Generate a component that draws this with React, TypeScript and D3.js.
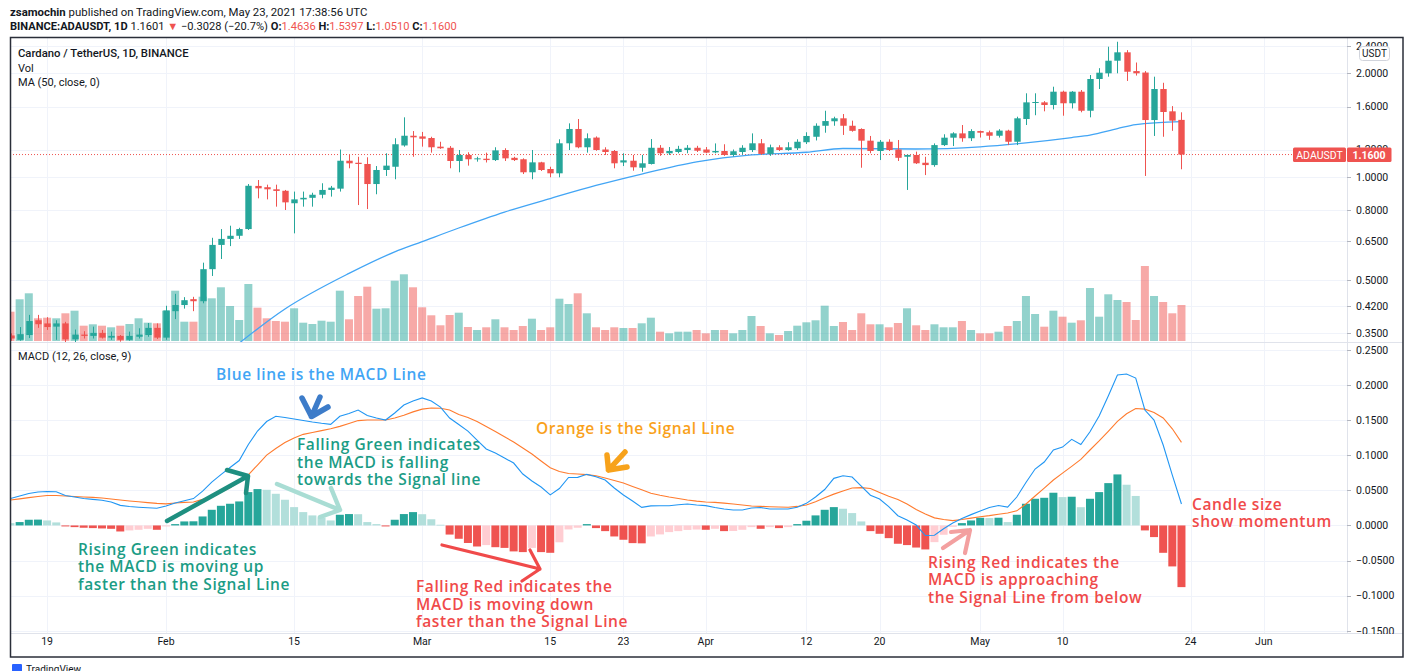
import React from 'react';
import * as d3 from 'd3';

// ---------- DATA ----------
const firstDay = '2021-01-15';

const opens = [
  0.345, 0.335, 0.346, 0.382, 0.374, 0.366, 0.374, 0.336, 0.347, 0.344,
  0.351, 0.340, 0.344, 0.335, 0.342, 0.346, 0.363, 0.340, 0.406, 0.423,
  0.440, 0.434, 0.538, 0.633, 0.659, 0.673, 0.704, 0.940, 0.932, 0.919,
  0.910, 0.837, 0.859, 0.868, 0.886, 0.915, 0.923, 1.113, 1.098, 1.089,
  0.952, 1.046, 1.069, 1.233, 1.316, 1.31, 1.296, 1.223, 1.214, 1.111,
  1.157, 1.124, 1.128, 1.118, 1.196, 1.135, 1.124, 1.03, 1.101, 1.053,
  1.023, 1.251, 1.377, 1.218, 1.30, 1.20, 1.188, 1.10, 1.113, 1.062,
  1.089, 1.214, 1.17, 1.18, 1.196, 1.214, 1.20, 1.177, 1.188, 1.157,
  1.18, 1.196, 1.251, 1.165, 1.218, 1.196, 1.21, 1.26, 1.307, 1.407,
  1.45, 1.479, 1.407, 1.377, 1.273, 1.188, 1.264, 1.20, 1.143, 1.157,
  1.098, 1.081, 1.236, 1.299, 1.337, 1.294, 1.358, 1.347, 1.316, 1.362,
  1.264, 1.472, 1.645, 1.646, 1.617, 1.768, 1.636, 1.768, 1.556, 1.925,
  2.0, 2.176, 2.302, 2.03, 2.01, 1.462, 1.80, 1.55, 1.4636,
];
const highs = [
  0.350, 0.365, 0.396, 0.396, 0.390, 0.382, 0.378, 0.359, 0.355, 0.366,
  0.358, 0.354, 0.346, 0.354, 0.362, 0.375, 0.374, 0.421, 0.456, 0.446,
  0.447, 0.562, 0.664, 0.704, 0.720, 0.710, 0.952, 0.978, 0.948, 0.948,
  0.915, 0.905, 0.905, 0.898, 0.957, 0.940, 1.20, 1.157, 1.143, 1.139,
  1.074, 1.17, 1.294, 1.489, 1.358, 1.35, 1.307, 1.264, 1.228, 1.196,
  1.178, 1.143, 1.175, 1.218, 1.21, 1.143, 1.131, 1.196, 1.105, 1.069,
  1.285, 1.43, 1.472, 1.337, 1.31, 1.218, 1.196, 1.17, 1.157, 1.157,
  1.287, 1.236, 1.22, 1.23, 1.236, 1.23, 1.22, 1.25, 1.243, 1.20,
  1.235, 1.337, 1.287, 1.24, 1.235, 1.26, 1.285, 1.347, 1.43, 1.556,
  1.495, 1.522, 1.456, 1.383, 1.314, 1.279, 1.285, 1.279, 1.16, 1.183,
  1.143, 1.25, 1.329, 1.347, 1.414, 1.375, 1.362, 1.362, 1.375, 1.37,
  1.495, 1.749, 1.749, 1.66, 1.828, 1.78, 1.775, 1.788, 1.977, 2.07,
  2.39, 2.471, 2.336, 2.15, 2.03, 1.955, 1.877, 1.605, 1.5397,
];
const lows = [
  0.333, 0.333, 0.339, 0.363, 0.358, 0.335, 0.330, 0.330, 0.338, 0.338,
  0.338, 0.335, 0.331, 0.333, 0.338, 0.342, 0.337, 0.335, 0.385, 0.413,
  0.406, 0.428, 0.514, 0.576, 0.628, 0.659, 0.700, 0.865, 0.859, 0.818,
  0.800, 0.684, 0.818, 0.818, 0.865, 0.875, 0.905, 1.058, 0.827, 0.805,
  0.889, 1.005, 0.983, 1.223, 1.143, 1.223, 1.175, 1.205, 1.058, 1.03,
  1.077, 1.106, 1.10, 1.111, 1.111, 1.111, 1.018, 0.983, 1.039, 0.996,
  0.996, 1.196, 1.21, 1.175, 1.19, 1.157, 1.058, 1.074, 1.041, 1.034,
  1.085, 1.15, 1.157, 1.17, 1.17, 1.18, 1.17, 1.17, 1.15, 1.145,
  1.16, 1.18, 1.157, 1.15, 1.188, 1.19, 1.196, 1.245, 1.275, 1.343,
  1.407, 1.323, 1.352, 1.062, 1.17, 1.118, 1.188, 1.111, 0.915, 1.089,
  1.011, 1.069, 1.228, 1.228, 1.264, 1.27, 1.30, 1.28, 1.30, 1.236,
  1.236, 1.414, 1.51, 1.55, 1.57, 1.505, 1.58, 1.54, 1.489, 1.80,
  1.955, 2.0, 1.90, 1.97, 1.005, 1.314, 1.307, 1.36, 1.051,
];
const closes = [
  0.338, 0.348, 0.380, 0.372, 0.365, 0.374, 0.336, 0.347, 0.344, 0.351,
  0.340, 0.344, 0.335, 0.344, 0.347, 0.363, 0.340, 0.408, 0.423, 0.437,
  0.434, 0.538, 0.633, 0.659, 0.673, 0.704, 0.941, 0.925, 0.919, 0.909,
  0.842, 0.859, 0.868, 0.886, 0.915, 0.929, 1.113, 1.094, 1.089, 0.952,
  1.046, 1.077, 1.243, 1.316, 1.302, 1.29, 1.218, 1.21, 1.111, 1.157,
  1.124, 1.131, 1.118, 1.193, 1.131, 1.118, 1.03, 1.101, 1.046, 1.023,
  1.251, 1.377, 1.218, 1.294, 1.196, 1.18, 1.094, 1.116, 1.065, 1.094,
  1.214, 1.17, 1.188, 1.205, 1.214, 1.19, 1.175, 1.188, 1.157, 1.186,
  1.214, 1.251, 1.165, 1.218, 1.196, 1.218, 1.264, 1.314, 1.407, 1.452,
  1.479, 1.407, 1.36, 1.273, 1.188, 1.264, 1.196, 1.135, 1.157, 1.094,
  1.081, 1.236, 1.299, 1.337, 1.294, 1.358, 1.343, 1.316, 1.362, 1.264,
  1.479, 1.646, 1.65, 1.617, 1.768, 1.636, 1.768, 1.556, 1.925, 2.008,
  2.176, 2.302, 2.021, 2.0, 1.462, 1.80, 1.543, 1.456, 1.16,
];
// volume, millions of ADA
const volumes = [
  586, 834, 954, 454, 466, 454, 554, 606, 306, 334,
  306, 274, 306, 340, 454, 366, 354, 606, 1006, 386,
  386, 886, 854, 1074, 700, 420, 1140, 666, 454, 400,
  386, 654, 366, 340, 406, 386, 1006, 434, 900, 1086,
  646, 654, 1206, 1334, 1074, 674, 514, 314, 520, 566,
  280, 220, 274, 434, 274, 220, 300, 446, 220, 274,
  846, 740, 954, 554, 274, 220, 274, 260, 260, 354,
  466, 186, 154, 186, 186, 220, 154, 220, 220, 154,
  220, 500, 300, 154, 120, 200, 306, 374, 414, 706,
  300, 380, 220, 554, 334, 334, 274, 360, 654, 314,
  220, 334, 274, 274, 400, 220, 154, 154, 186, 300,
  400, 900, 540, 286, 606, 486, 366, 414, 1060, 486,
  934, 820, 780, 420, 1500, 900, 780, 554, 720,
];
// MA(50, close)
const maDates = [
  '2021-02-08', '2021-02-14', '2021-02-21', '2021-02-26', '2021-03-01', '2021-03-05',
  '2021-03-10', '2021-03-15', '2021-03-20', '2021-03-25', '2021-03-31', '2021-04-06',
  '2021-04-12', '2021-04-16', '2021-04-24', '2021-05-01', '2021-05-06', '2021-05-11',
  '2021-05-13', '2021-05-16', '2021-05-18', '2021-05-23',
];
const maValues = [
  0.312, 0.412, 0.523, 0.604, 0.647, 0.709,
  0.789, 0.864, 0.943, 1.018, 1.104, 1.157,
  1.178, 1.208, 1.204, 1.222, 1.255, 1.30,
  1.322, 1.38, 1.418, 1.446,
];
const macdLine = [
  0.0383, 0.0419, 0.0455, 0.0476, 0.0483, 0.0480, 0.0426, 0.0405, 0.0383, 0.0372,
  0.0359, 0.0333, 0.0286, 0.0269, 0.0259, 0.0251, 0.0244, 0.0276, 0.0319, 0.0351,
  0.0383, 0.0490, 0.0618, 0.0725, 0.0825, 0.0925, 0.1153, 0.1345, 0.1481, 0.1555,
  0.1538, 0.1516, 0.1495, 0.1474, 0.1456, 0.1441, 0.1556, 0.1595, 0.1645, 0.1566,
  0.1531, 0.1502, 0.1602, 0.1716, 0.1773, 0.1818, 0.1773, 0.1687, 0.1531, 0.1438,
  0.1345, 0.1217, 0.1089, 0.1032, 0.0961, 0.0889, 0.0733, 0.0633, 0.0547, 0.0436,
  0.0526, 0.0683, 0.0685, 0.0728, 0.0693, 0.0647, 0.0533, 0.0433, 0.0348, 0.0258,
  0.0279, 0.0281, 0.0281, 0.0294, 0.0305, 0.0291, 0.0282, 0.0255, 0.0234, 0.0219,
  0.0219, 0.0248, 0.0255, 0.0234, 0.0234, 0.0234, 0.0259, 0.0315, 0.0405, 0.0512,
  0.0671, 0.0707, 0.0690, 0.0561, 0.0430, 0.0376, 0.0269, 0.0138, 0.0077, 0.0006,
  -0.0144, -0.0140, -0.0048, 0.0034, 0.0098, 0.0154, 0.0205, 0.0255, 0.0284, 0.0262,
  0.0405, 0.0611, 0.0804, 0.0904, 0.1075, 0.1117, 0.1227, 0.1153, 0.1335, 0.1559,
  0.1844, 0.2143, 0.2157, 0.2100, 0.1645, 0.1502, 0.1146, 0.0718, 0.0305,
];
const signalLine = [
  0.0362, 0.0379, 0.0396, 0.0412, 0.0426, 0.0426, 0.0419, 0.0413, 0.0406, 0.0400,
  0.0392, 0.0376, 0.0362, 0.0349, 0.0338, 0.0325, 0.0314, 0.0308, 0.0319, 0.0328,
  0.0335, 0.0371, 0.0420, 0.0472, 0.0536, 0.0623, 0.0721, 0.0861, 0.1003, 0.1096,
  0.1181, 0.1246, 0.1298, 0.1324, 0.1351, 0.1377, 0.1412, 0.1452, 0.1494, 0.1502,
  0.1502, 0.1502, 0.1531, 0.1569, 0.1618, 0.1657, 0.1674, 0.1669, 0.1645, 0.1580,
  0.1539, 0.1481, 0.1409, 0.1338, 0.1263, 0.1190, 0.1103, 0.1018, 0.0918, 0.0822,
  0.0768, 0.0741, 0.0733, 0.0724, 0.0708, 0.0676, 0.0641, 0.0604, 0.0556, 0.0507,
  0.0459, 0.0430, 0.0405, 0.0383, 0.0362, 0.0346, 0.0333, 0.0328, 0.0318, 0.0305,
  0.0291, 0.0278, 0.0272, 0.0266, 0.0262, 0.0259, 0.0271, 0.0291, 0.0339, 0.0396,
  0.0446, 0.0490, 0.0533, 0.0539, 0.0526, 0.0469, 0.0415, 0.0369, 0.0305, 0.0227,
  0.0162, 0.0108, 0.0084, 0.0068, 0.0084, 0.0104, 0.0123, 0.0140, 0.0160, 0.0178,
  0.0208, 0.0305, 0.0419, 0.0532, 0.0647, 0.0745, 0.0842, 0.0941, 0.1075, 0.1204,
  0.1342, 0.1482, 0.1592, 0.1666, 0.1657, 0.1610, 0.1531, 0.1377, 0.1183,
];
const histogram = [
  0.0033, 0.0048, 0.0081, 0.0083, 0.0071, 0.0043, -0.0014, -0.0024, -0.0033, -0.0038,
  -0.0043, -0.0048, -0.0086, -0.0071, -0.0062, -0.0048, -0.0062, -0.0014, 0.0019, 0.0057,
  0.0059, 0.0128, 0.0223, 0.0280, 0.0309, 0.0342, 0.0475, 0.0518, 0.0508, 0.0451,
  0.0366, 0.0261, 0.0190, 0.0143, 0.0114, 0.0071, 0.0152, 0.0162, 0.0160, 0.0048,
  0.0019, -0.0014, 0.0081, 0.0162, 0.0190, 0.0160, 0.0088, 0.0010, -0.0130, -0.0190,
  -0.0250, -0.0300, -0.0280, -0.0310, -0.0320, -0.0370, -0.0380, -0.0320, -0.0380, -0.0390,
  -0.0240, -0.0057, -0.0033, 0.0019, -0.0038, -0.0081, -0.0157, -0.0204, -0.0252, -0.0255,
  -0.0157, -0.0128, -0.0095, -0.0081, -0.0064, -0.0058, -0.0062, -0.0048, -0.0081, -0.0079,
  -0.0062, -0.0024, -0.0048, -0.0024, -0.0038, -0.0024, 0.0019, 0.0067, 0.0143, 0.0223,
  0.0261, 0.0238, 0.0176, 0.0057, -0.0081, -0.0119, -0.0181, -0.0261, -0.0280, -0.0315,
  -0.0342, -0.0238, -0.0133, -0.0020, 0.0033, 0.0071, 0.0109, 0.0105, 0.0110, 0.0048,
  0.0152, 0.0309, 0.0380, 0.0394, 0.0466, 0.0404, 0.0409, 0.0260, 0.0380, 0.0475,
  0.0603, 0.0727, 0.0580, 0.0420, -0.0071, -0.0166, -0.0390, -0.0584, -0.0879,
];

const priceTicks = [2.4, 2.0, 1.6, 1.2, 1.0, 0.8, 0.65, 0.5, 0.42, 0.35];
const macdTicks = [0.25, 0.2, 0.15, 0.1, 0.05, 0, -0.05, -0.1, -0.15];
const dateTicks = [
  '2021-01-19', '2021-02-01', '2021-02-15', '2021-03-01', '2021-03-15', '2021-03-23',
  '2021-04-01', '2021-04-12', '2021-04-20', '2021-05-01', '2021-05-10', '2021-05-24', '2021-06-01',
];
const dateTickLabels = ['19', 'Feb', '15', 'Mar', '15', '23', 'Apr', '12', '20', 'May', '10', '24', 'Jun'];

// ---------- LAYOUT ----------
const W = 1406, H = 671;
const L = 10, PR = 1347, R = 1403;
const PT = 38, PB = 342, MT = 343, MB = 633, FB = 657;

const UP = '#26a69a', DOWN = '#ef5350';
const UP_VOL = 'rgba(38,166,154,0.5)', DOWN_VOL = 'rgba(239,83,80,0.5)';
const GRID = '#f0f3fa';
const UI_FONT = 'Roboto, "Noto Sans", sans-serif';
const NOTE_FONT = '"Open Sans", Lato, sans-serif';

const parse = (s: string) => new Date(s + 'T00:00:00Z');
const day0 = parse(firstDay);
const dateOf = (i: number) => d3.utcDay.offset(day0, i);

const x = d3.scaleUtc().domain([parse('2021-01-15'), parse('2021-06-01')]).range([10.5, 1263.8]);
const yP = d3.scaleLog().domain([1, 2]).range([176.7, 73.3]);
const yV = d3.scaleLinear().domain([0, 1500]).range([341, 266]);
const yM = d3.scaleLinear().domain([-0.15, 0.25]).range([630.7, 350]);

const fmtMacd = (v: number) => (v < 0 ? '\u2212' : '') + Math.abs(v).toFixed(4);

function histColor(i: number) {
  const h = histogram[i];
  const prev = i > 0 ? histogram[i - 1] : h;
  if (h >= 0) return h > prev ? '#26a69a' : '#b2dfdb';
  return h > prev ? '#ffcdd2' : '#ef5350';
}

export default function App() {
  const idx = d3.range(closes.length);
  const maLine = d3
    .line<number>()
    .x((k) => x(parse(maDates[k])))
    .y((k) => yP(maValues[k]))
    .curve(d3.curveMonotoneX);
  const macdPath = d3.line<number>().x((i) => x(dateOf(i))).y((i) => yM(macdLine[i]));
  const sigPath = d3.line<number>().x((i) => x(dateOf(i))).y((i) => yM(signalLine[i]));
  const last = closes.length - 1;
  const lastY = yP(closes[last]);

  const noteText = (lines: string[], x0: number, y0: number, color: string, step = 17.5) =>
    lines.map((t, k) => (
      <text
        key={t}
        x={x0}
        y={y0 + k * step}
        fill={color}
        fontFamily={NOTE_FONT}
        fontWeight={600}
        fontSize={15.5}
        letterSpacing={0.6}
      >
        {t}
      </text>
    ));

  return (
    <div style={{ position: 'absolute', left: 0, top: 0, width: W, height: H, overflow: 'hidden', background: '#fff' }}>
      <svg width={W} height={H} style={{ display: 'block' }}>
        <defs>
          <clipPath id="pricePane">
            <rect x={L} y={PT} width={PR - L} height={PB - PT} />
          </clipPath>
          <clipPath id="macdPane">
            <rect x={L} y={MT} width={PR - L} height={MB - MT} />
          </clipPath>
        </defs>
        <rect x={0} y={0} width={W} height={H} fill="#fff" />

        {/* header */}
        <g fontFamily={UI_FONT} fill="#131722">
          <text x={10} y={16} fontSize={11.4}>
            <tspan fontWeight={700}>zsamochin</tspan>
            {' published on TradingView.com, May 23, 2021 17:38:56 UTC'}
          </text>
          <text x={10} y={30} fontSize={11.1}>
            <tspan fontWeight={700}>BINANCE:ADAUSDT, 1D</tspan>
            {' 1.1601 '}
            <tspan fill={DOWN}>▼</tspan>
            {' \u22120.3028 (\u221220.7%) '}
            <tspan fontWeight={700}>O:</tspan>
            <tspan fill={DOWN}>{opens[last].toFixed(4)}</tspan>
            {' '}
            <tspan fontWeight={700}>H:</tspan>
            <tspan fill={DOWN}>{highs[last].toFixed(4)}</tspan>
            {' '}
            <tspan fontWeight={700}>L:</tspan>
            <tspan fill={DOWN}>{lows[last].toFixed(4)}</tspan>
            {' '}
            <tspan fontWeight={700}>C:</tspan>
            <tspan fill={DOWN}>{closes[last].toFixed(4)}</tspan>
          </text>
        </g>

        {/* grid */}
        <g stroke={GRID} strokeWidth={1}>
          {dateTicks.map((d) => (
            <line key={'v' + d} x1={Math.round(x(parse(d))) + 0.5} x2={Math.round(x(parse(d))) + 0.5} y1={PT} y2={MB} />
          ))}
          {priceTicks.map((p) => (
            <line key={'p' + p} x1={L} x2={PR} y1={Math.round(yP(p)) + 0.5} y2={Math.round(yP(p)) + 0.5} />
          ))}
          {macdTicks.map((m) => (
            <line key={'m' + m} x1={L} x2={PR} y1={Math.round(yM(m)) + 0.5} y2={Math.round(yM(m)) + 0.5} />
          ))}
        </g>

        {/* price pane */}
        <g clipPath="url(#pricePane)">
          {idx.map((i) => (
            <rect
              key={'vol' + i}
              x={x(dateOf(i)) - 4}
              width={8}
              y={yV(volumes[i])}
              height={yV(0) - yV(volumes[i])}
              fill={closes[i] >= opens[i] ? UP_VOL : DOWN_VOL}
            />
          ))}
          <line x1={L} x2={1293} y1={lastY} y2={lastY} stroke={DOWN} strokeWidth={1} strokeDasharray="1 2" />
          <path d={maLine(d3.range(maDates.length)) || ''} fill="none" stroke="#42a5f5" strokeWidth={1.3} />
          {idx.map((i) => {
            const cx = Math.round(x(dateOf(i))) + 0.5;
            const col = closes[i] >= opens[i] ? UP : DOWN;
            const top = yP(Math.max(opens[i], closes[i]));
            const bot = yP(Math.min(opens[i], closes[i]));
            return (
              <g key={'c' + i}>
                <line x1={cx} x2={cx} y1={yP(highs[i])} y2={yP(lows[i])} stroke={col} strokeWidth={1} />
                <rect x={cx - 3.2} width={6.4} y={top} height={Math.max(1, bot - top)} fill={col} />
              </g>
            );
          })}
        </g>

        {/* legend */}
        <g fontFamily={UI_FONT} fontSize={11} fill="#131722">
          <text x={18} y={57} fontWeight={500} fontSize={11.3}>Cardano / TetherUS, 1D, BINANCE</text>
          <text x={18} y={71.5}>Vol</text>
          <text x={18} y={86}>MA (50, close, 0)</text>
          <text x={18} y={359.5}>MACD (12, 26, close, 9)</text>
        </g>

        {/* MACD pane */}
        <g clipPath="url(#macdPane)">
          {idx.map((i) => {
            const v = histogram[i];
            const y0 = yM(0), y1 = yM(v);
            return (
              <rect
                key={'h' + i}
                x={x(dateOf(i)) - 4}
                width={8}
                y={Math.min(y0, y1)}
                height={Math.max(0.8, Math.abs(y1 - y0))}
                fill={histColor(i)}
              />
            );
          })}
          <path d={sigPath(idx) || ''} fill="none" stroke="#ff7b2e" strokeWidth={1.1} />
          <path d={macdPath(idx) || ''} fill="none" stroke="#2196f3" strokeWidth={1.1} />
        </g>

        {/* annotations */}
        {noteText(['Blue line is the MACD Line'], 216, 380, '#42a5f5')}
        {noteText(['Orange is the Signal Line'], 536, 434, '#f9a11b')}
        {noteText(['Falling Green indicates', 'the MACD is falling', 'towards the Signal line'], 297, 450, '#1b9c85')}
        {noteText(['Rising Green indicates', 'the MACD is moving up', 'faster than the Signal Line'], 78, 554.5, '#1b9c85')}
        {noteText(['Falling Red indicates the', 'MACD is moving down', 'faster than the Signal Line'], 416, 592, '#f04a4a')}
        {noteText(['Rising Red indicates the', 'MACD is approaching', 'the Signal Line from below'], 928, 567.5, '#f04a4a')}
        {noteText(['Candle size', 'show momentum'], 1192, 509.5, '#f04a4a', 17.5)}

        <g fill="none" strokeLinecap="round" strokeLinejoin="round">
          <path d="M302,398 L311.5,416.5 L328,407 M311.5,416.5 L320,397" stroke="#3d7cc9" strokeWidth={5.5} />
          <path d="M607,455 L608.5,470 L627,467 M608.5,470 L625,452" stroke="#f7a21b" strokeWidth={5.5} />
          <path d="M167,521 L248,476 M227,470 L248,476 L246,493" stroke="#1e8f80" strokeWidth={4.5} />
          <path d="M277,484 L340,510 M331,488 L340,510 L320,517" stroke="#a9ddd4" strokeWidth={4.5} />
          <path d="M442,545 L540,569 M530,550 L540,569 L522,581" stroke="#f04a4a" strokeWidth={3.2} />
          <path d="M943,548 L970,530 M951,532 L970,530 L965,553" stroke="#f3a0a0" strokeWidth={4.2} />
        </g>

        {/* separators and frame */}
        <g stroke="#e0e3eb" strokeWidth={1}>
          <line x1={PR + 0.5} x2={PR + 0.5} y1={PT} y2={FB} />
          <line x1={L} x2={R} y1={PB + 0.5} y2={PB + 0.5} />
          <line x1={L} x2={R} y1={MB + 0.5} y2={MB + 0.5} />
        </g>

        {/* price axis */}
        <g fontFamily={UI_FONT} fontSize={10.5} fill="#131722">
          {priceTicks.map((p) => (
            <g key={'pl' + p}>
              <line x1={PR} x2={PR + 4} y1={Math.round(yP(p)) + 0.5} y2={Math.round(yP(p)) + 0.5} stroke="#b2b5be" />
              <text x={1356} y={yP(p) + 3.8}>{p.toFixed(4)}</text>
            </g>
          ))}
          {macdTicks.map((m) => (
            <g key={'ml' + m}>
              <line x1={PR} x2={PR + 4} y1={Math.round(yM(m)) + 0.5} y2={Math.round(yM(m)) + 0.5} stroke="#b2b5be" />
              <text x={1356} y={yM(m) + 3.8}>{fmtMacd(m)}</text>
            </g>
          ))}
        </g>
        {/* mask under x-axis for cut labels */}
        <rect x={L} y={MB + 1} width={R - L} height={FB - MB - 1} fill="#fff" />
        <g fontFamily={UI_FONT} fontSize={10.5} fill="#131722" textAnchor="middle">
          {dateTicks.map((d, k) => (
            <text key={'xl' + d} x={x(parse(d))} y={645}>
              {dateTickLabels[k]}
            </text>
          ))}
        </g>

        {/* USDT badge */}
        <rect x={1359.5} y={46.5} width={30} height={14} rx={3} fill="#fff" stroke="#d1d4dc" />
        <text x={1374.5} y={57} textAnchor="middle" fontFamily={UI_FONT} fontSize={10} fill="#131722">
          USDT
        </text>

        {/* last price labels */}
        <rect x={1293} y={lastY - 7} width={53} height={14.5} rx={1.5} fill={DOWN} />
        <text x={1319.5} y={lastY + 4} textAnchor="middle" fontFamily={UI_FONT} fontSize={10.5} fill="#fff">
          ADAUSDT
        </text>
        <rect x={1347} y={lastY - 7} width={44.5} height={14.5} rx={1.5} fill={DOWN} />
        <text x={1369} y={lastY + 4} textAnchor="middle" fontFamily={UI_FONT} fontSize={10.5} fontWeight={700} fill="#fff">
          {closes[last].toFixed(4)}
        </text>

        <rect x={L + 0.5} y={PT - 0.5} width={R - L - 0.5} height={FB - PT + 0.5} fill="none" stroke="#2a2e39" strokeWidth={1.5} />

        {/* footer */}
        <rect x={12} y={664} width={10} height={8} rx={1} fill="#2962ff" />
        <text x={26} y={673} fontFamily={UI_FONT} fontSize={10} fill="#131722">TradingView</text>
      </svg>
    </div>
  );
}
